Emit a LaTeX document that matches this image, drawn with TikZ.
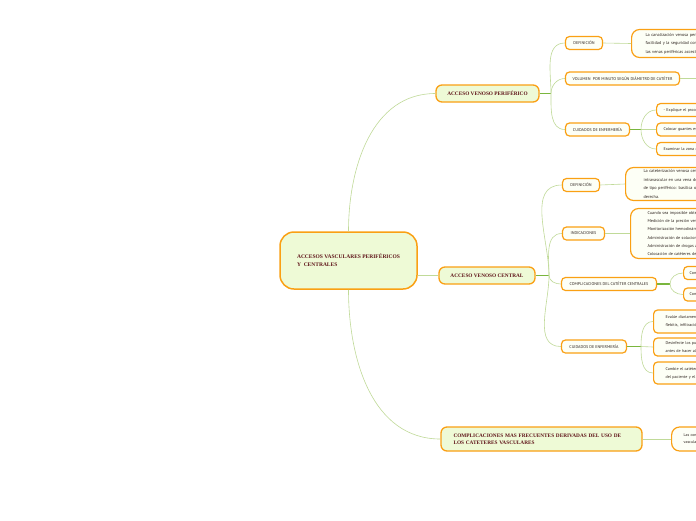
\documentclass[tikz,border=0pt]{standalone}
\usepackage{fontspec}
\setmainfont{Liberation Serif}
\newfontfamily\notefont{PT Sans}
\usetikzlibrary{positioning}
\definecolor{MapOrange}{RGB}{250,160,20}
\definecolor{MapGreen}{RGB}{238,250,214}
\definecolor{NoteWhite}{RGB}{253,255,246}
\definecolor{MapRed}{RGB}{95,20,25}
\definecolor{NoteInk}{RGB}{45,35,30}
\definecolor{BranchGreen}{RGB}{192,218,152}
\definecolor{StemGreen}{RGB}{122,182,62}

\tikzset{
  rootbox/.style={draw=MapOrange,line width=1.5pt,fill=MapGreen,rounded corners=14pt,
    minimum width=137pt,minimum height=57pt,align=left,text=MapRed,
    font=\fontsize{5.5}{7.8}\selectfont\bfseries},
  topicbox/.style={draw=MapOrange,line width=1.3pt,fill=MapGreen,rounded corners=6pt,
    inner sep=0pt,align=left,text=MapRed,font=\fontsize{5.3}{7.2}\selectfont\bfseries},
  subbox/.style={draw=MapOrange,line width=1.2pt,fill=NoteWhite,rounded corners=4pt,
    inner sep=0pt,minimum height=13pt,text=NoteInk,font=\notefont\fontsize{4.1}{5}\selectfont},
  leafbox/.style={subbox,anchor=west,align=left,text width=80pt},
  notebox/.style={draw=MapOrange,line width=1.2pt,fill=NoteWhite,rounded corners=8pt,
    inner ysep=0pt,anchor=west,align=left,text=NoteInk,text width=110pt,
    font=\notefont\fontsize{4.3}{8.4}\selectfont},
  branch/.style={draw=BranchGreen,line width=0.6pt},
  stem/.style={draw=StemGreen,line width=1.2pt},
}

\begin{document}
\begin{tikzpicture}[x=1pt,y=-1pt]
  \useasboundingbox[fill=white] (0,0) rectangle (696,520);

  % centro
  \node[rootbox] (root) at (348.5,260.5)
    {ACCESOS VASCULARES PERIFÉRICOS\\Y~~CENTRALES};

  % ramas principales
  \node[topicbox,minimum width=103pt,minimum height=17pt] (per) at (487.5,93.5) {ACCESO VENOSO PERIFÉRICO};
  \node[topicbox,minimum width=96pt,minimum height=17pt] (cen) at (487,275.5) {ACCESO VENOSO CENTRAL};
  \node[topicbox,minimum width=201pt,minimum height=24pt,text width=176pt] (com) at (541.5,439)
    {COMPLICACIONES MAS FRECUENTES DERIVADAS DEL USO DE\\LOS CATETERES VASCULARES};

  \draw[branch] (root.north) to[out=90,in=180] (per.west);
  \draw[branch] (root.east |- cen) -- (cen.west);
  \draw[branch] (root.south) to[out=-90,in=180] (com.west);

  % acceso periferico
  \node[subbox,minimum width=37pt] (pdef) at (584,43) {DEFINICIÓN};
  \node[subbox,minimum width=114pt] (pvol) at (622.5,78.5) {VOLUMEN \ POR MINUTO SEGÚN DIÁMETRO DE CATÉTER};
  \node[subbox,minimum width=64pt] (pcui) at (597.5,129.5) {CUIDADOS DE ENFERMERÍA};
  \coordinate (perhub) at (551,93.5);
  \draw[stem] (per.east) -- (perhub);
  \draw[branch] (perhub) to[out=90,in=180] (pdef.west);
  \draw[branch] (perhub) to[out=90,in=180] (pvol.west);
  \draw[branch] (perhub) to[out=-90,in=180] (pcui.west);

  \node[notebox,minimum height=28pt,inner xsep=14pt] (pdefnote) at (631,43.5)
    {La canalización venosa periférica\\facilidad y la seguridad con que\\las venas periféricas accesibles};
  \draw[branch] (pdef.east) -- (pdefnote.west);
  \coordinate (pvolend) at (720,78.5);
  \draw[branch] (pvol.east) -- (pvolend);

  \coordinate (pcuihub) at (641,129.5);
  \draw[stem] (pcui.east) -- (pcuihub);
  \node[leafbox,inner xsep=7pt] (pc1) at (656,110) {- Explique el procedimiento};
  \node[leafbox,inner xsep=7pt] (pc2) at (656,129.5) {Colocar guantes estériles};
  \node[leafbox,inner xsep=7pt] (pc3) at (656,149) {Examinar la zona de punción};
  \draw[branch] (pcuihub) to[out=90,in=180] (pc1.west);
  \draw[branch] (pcuihub) -- (pc2.west);
  \draw[branch] (pcuihub) to[out=-90,in=180] (pc3.west);

  % acceso central
  \node[subbox,minimum width=37pt] (cdef) at (581,185) {DEFINICIÓN};
  \node[subbox,minimum width=42pt] (cind) at (583.5,233.5) {INDICACIONES};
  \node[subbox,minimum width=95pt] (ccom) at (609,284) {COMPLICACIONES DEL CATÉTER CENTRALES};
  \node[subbox,minimum width=65pt] (ccui) at (594,346.5) {CUIDADOS DE ENFERMERÍA};
  \coordinate (cenhub) at (549,275.5);
  \draw[stem] (cen.east) -- (cenhub);
  \draw[branch] (cenhub) to[out=90,in=180] (cdef.west);
  \draw[branch] (cenhub) to[out=90,in=180] (cind.west);
  \draw[branch] (cenhub) to[out=-90,in=180] (ccom.west);
  \draw[branch] (cenhub) to[out=-90,in=180] (ccui.west);

  \node[notebox,minimum height=33pt,inner xsep=18pt] (cdefnote) at (625,184)
    {La cateterización venosa central\\intravascular en una vena de gran\\de tipo periférico: basílica o cefálica\\derecha.};
  \draw[branch] (cdef.east) -- (cdefnote.west);
  \node[notebox,minimum height=50pt,inner xsep=17pt,font=\notefont\fontsize{4.2}{8.3}\selectfont] (cindnote) at (630,233.5)
    {Cuando sea imposible obtener\\Medición de la presión venosa\\Monitorización hemodinámica\\Administración de soluciones\\Administración de drogas a\\Colocación de catéteres de};
  \draw[branch] (cind.east) -- (cindnote.west);

  \coordinate (ccomhub) at (670,284);
  \draw[stem] (ccom.east) -- (ccomhub);
  \node[leafbox,inner xsep=6pt] (cc1) at (683,273) {Complicaciones};
  \node[leafbox,inner xsep=6pt] (cc2) at (683,294.5) {Complicaciones};
  \draw[branch] (ccomhub) to[out=90,in=180] (cc1.west);
  \draw[branch] (ccomhub) to[out=-90,in=180] (cc2.west);

  \coordinate (ccuihub) at (641,346.5);
  \draw[stem] (ccui.east) -- (ccuihub);
  \node[leafbox,minimum height=23pt,inner xsep=12pt,font=\notefont\fontsize{4.1}{8}\selectfont] (cu1) at (653,321.5)
    {Evalúe diariamente el\\flebitis, infiltración};
  \node[leafbox,minimum height=18pt,inner xsep=12pt,font=\notefont\fontsize{4.1}{8}\selectfont] (cu2) at (653,347)
    {Desinfecte los puertos\\antes de hacer alguna};
  \node[leafbox,minimum height=22pt,inner xsep=12pt,font=\notefont\fontsize{4.1}{8}\selectfont] (cu3) at (653,373)
    {Cambie el catéter\\del paciente y el catéter};
  \draw[branch] (ccuihub) to[out=90,in=180] (cu1.west);
  \draw[branch] (ccuihub) -- (cu2.west);
  \draw[branch] (ccuihub) to[out=-90,in=180] (cu3.west);

  % complicaciones
  \node[notebox,minimum height=24pt,inner xsep=12pt,font=\notefont\fontsize{4}{7}\selectfont] (comnote) at (671,439)
    {Las complicaciones\\vasculares};
  \draw[branch] (com.east) -- (comnote.west);
\end{tikzpicture}
\end{document}
